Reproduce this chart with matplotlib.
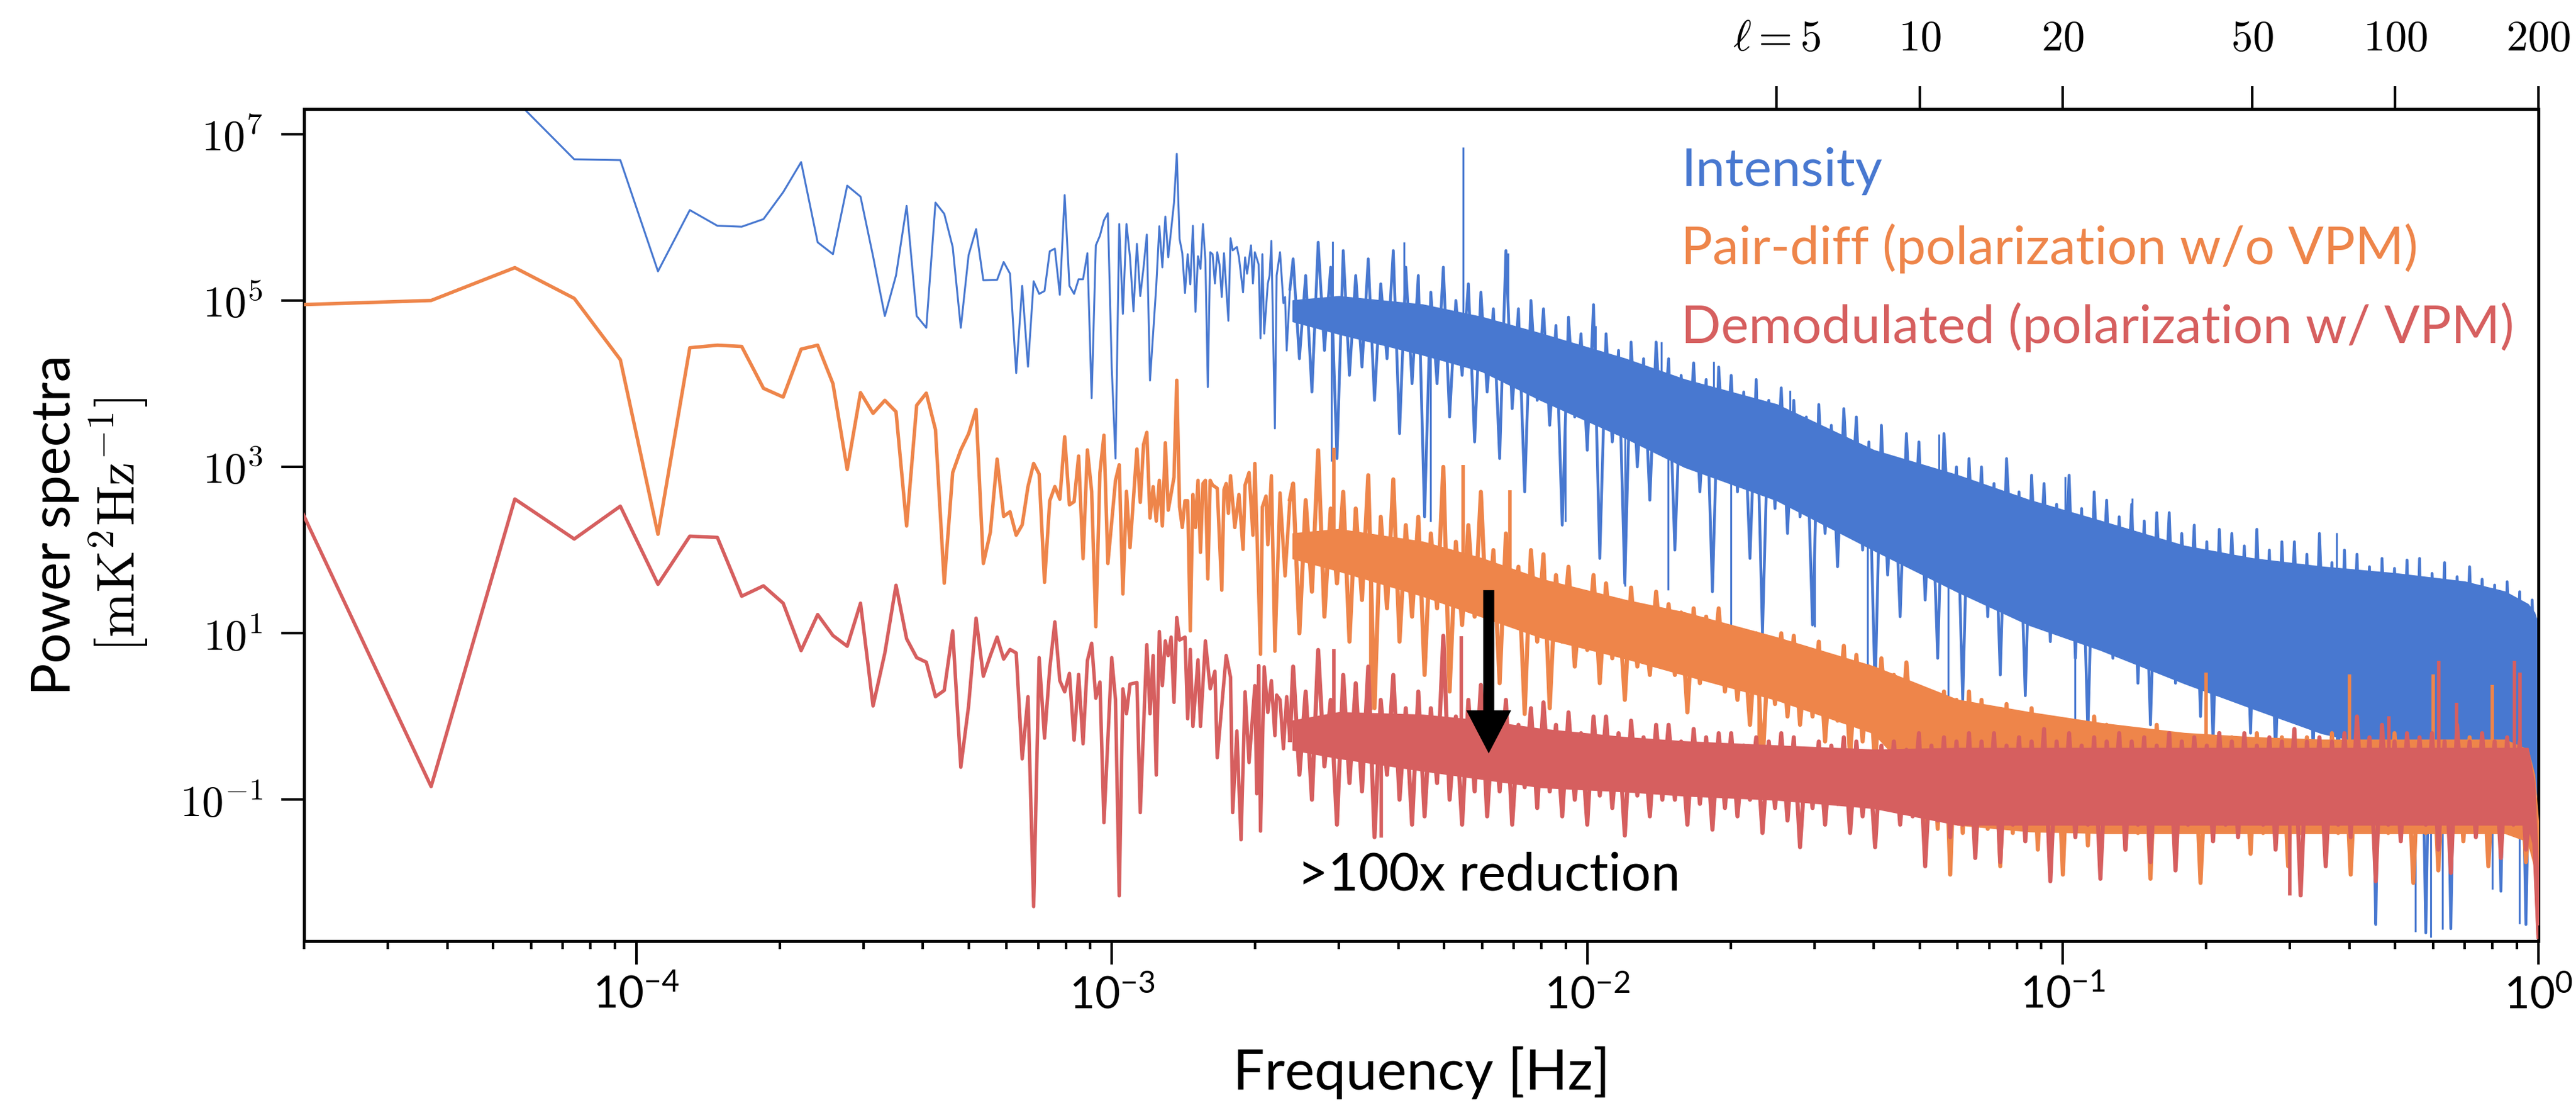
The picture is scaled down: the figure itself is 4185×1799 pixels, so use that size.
import numpy as np
import matplotlib

matplotlib.use("Agg")
import matplotlib.pyplot as plt
from matplotlib.ticker import LogLocator, NullLocator, NullFormatter

plt.rcParams["font.family"] = ["Lato", "DejaVu Sans"]
plt.rcParams["mathtext.fontset"] = "cm"
plt.rcParams["mathtext.rm"] = "Lato"
plt.rcParams["mathtext.it"] = "Lato:italic"
plt.rcParams["mathtext.bf"] = "Lato:bold"

BLUE = "#4878D0"
ORANGE = "#EE854A"
RED = "#D65F5F"

DF = 1.85e-5  # width of one frequency bin [Hz]

# bins 1..50, one value per bin [mK^2/Hz]
INT_LOW = [6e7, 4e7, 2.6e7, 4.97e6, 4.86e6, 2.24e5, 1.22e6, 7.9e5, 7.7e5, 9.5e5,
           2.0e6, 4.6e6, 5.0e5, 3.6e5, 2.4e6, 1.77e6, 3.4e5, 6.5e4, 2.0e5, 1.37e6,
           6.5e4, 4.7e4, 1.5e6, 1.1e6, 4.4e5, 4.7e4, 3.5e5, 7.2e5, 1.75e5, 1.76e5,
           1.77e5, 2.9e5, 2.1e5, 1.34e4, 1.5e5, 1.6e4, 1.7e5, 1.2e5, 1.3e5, 3.9e5,
           4.2e5, 1.17e5, 1.85e6, 1.5e5, 1.2e5, 1.8e5, 1.8e5, 3.7e5, 6.7e3, 4.6e5]
PAIR_LOW = [8.8e4, 1.0e5, 2.48e5, 1.06e5, 1.94e4, 155, 2.7e4, 2.9e4, 2.8e4, 8.8e3,
            6.9e3, 2.6e4, 2.9e4, 1.0e4, 930, 7.8e3, 4.4e3, 6.3e3, 4.6e3, 195,
            5.5e3, 7.7e3, 2.8e3, 40, 855, 1.6e3, 2.5e3, 4.9e3, 69, 164,
            1.24e3, 254, 289, 151, 201, 580, 1.1e3, 820, 41, 392,
            580, 409, 2.3e3, 350, 382, 1.35e3, 79, 1.6e3, 508, 12]
DEMOD_LOW = [660, 0.144, 411, 136, 337, 38.8, 147, 142, 27.9, 37.2,
             23, 6.2, 16.8, 9.4, 7.0, 23, 1.34, 5.8, 37.8, 8.6,
             5.1, 4.5, 1.73, 2.06, 10.7, 0.246, 1.34, 15.2, 3.05, 5.4,
             9.0, 4.9, 6.4, 5.8, 0.31, 1.73, 0.0052, 5.1, 0.55, 3.8,
             13.7, 2.7, 1.98, 3.3, 0.52, 3.2, 0.47, 4.7, 7.6, 1.66]

# (bin, value) for the bins 51..128 that can be told apart
INT_MID = [(51, 6.0e5), (52, 9.2e5), (53, 1.12e6), (54, 1.56e4), (55, 1.26e3),
           (56, 8.3e5), (57, 6.9e4), (58, 8.3e5), (59, 3.3e5), (60, 7.4e4),
           (61, 4.8e5), (62, 1.13e5), (63, 2.5e5), (64, 6.2e5), (65, 1.09e4),
           (67, 1.5e5), (68, 7.8e5), (69, 2.5e5), (70, 1.02e6), (71, 3.3e5),
           (73, 1.49e6), (74, 5.8e6), (75, 5.5e5), (76, 3.7e5), (77, 1.23e5),
           (78, 3.6e5), (79, 1.56e5), (80, 7.9e5), (81, 7.3e4), (82, 3.4e5),
           (83, 2.4e5), (84, 8.3e5), (85, 3.0e5), (86, 9.1e3), (87, 3.8e5),
           (88, 3.6e5), (89, 1.6e5), (90, 3.8e5), (91, 2.7e5), (92, 1.1e5),
           (93, 3.7e5), (95, 5.7e4), (96, 5.6e5), (97, 4.0e5), (99, 4.4e5),
           (100, 3.3e5), (102, 1.25e5), (103, 3.3e5), (104, 2.1e5), (106, 4.6e5),
           (107, 1.6e5), (108, 3.8e5), (110, 2.7e5), (111, 3.5e4), (112, 3.6e5),
           (113, 4.0e4), (115, 1.6e5), (116, 2.0e5), (117, 5.2e5), (119, 2.9e3),
           (120, 2.0e5), (122, 3.8e5), (124, 9.3e4), (125, 1.1e5), (126, 2.5e4),
           (128, 1.37e5)]
PAIR_MID = [(51, 855), (52, 2.4e3), (53, 69), (55, 689), (56, 1.06e3),
            (57, 29.7), (58, 508), (59, 107), (61, 1.64e3), (62, 375),
            (63, 1.87e3), (64, 2.6e3), (65, 243), (66, 578), (67, 223),
            (68, 689), (69, 195), (70, 1.95e3), (71, 302), (73, 750),
            (74, 1.1e4), (75, 330), (76, 187), (77, 392), (78, 392),
            (79, 10.7), (80, 466), (81, 187), (82, 689), (83, 94),
            (84, 631), (85, 689), (86, 45), (87, 689), (88, 604),
            (90, 553), (92, 33), (93, 531), (94, 631), (95, 277),
            (96, 783), (98, 187), (100, 466), (102, 102), (103, 604),
            (105, 855), (107, 151), (108, 1.1e3), (111, 5.6), (112, 330),
            (114, 446), (115, 116), (117, 783), (119, 6.1), (122, 486),
            (125, 49), (128, 408)]
DEMOD_MID = [(51, 2.6), (52, 0.053), (54, 5.1), (55, 1.59), (56, 0.007),
             (57, 2.15), (58, 1.08), (59, 2.45), (61, 2.56), (62, 0.07),
             (64, 7.3), (65, 1.08), (66, 5.4), (67, 0.198), (68, 10.5),
             (69, 2.35), (70, 8.1), (71, 5.4), (72, 9.0), (73, 1.48),
             (74, 15.5), (75, 8.3), (77, 9.0), (78, 0.94), (79, 6.4),
             (80, 0.76), (82, 4.8), (83, 0.76), (85, 8.1), (87, 2.15),
             (89, 3.5), (90, 0.32), (92, 1.34), (94, 5.4), (96, 2.97),
             (97, 0.07), (99, 0.67), (101, 0.033), (103, 1.98), (105, 0.28),
             (108, 2.35), (109, 0.118), (110, 4.1), (111, 0.042), (113, 3.95),
             (115, 1.12), (117, 2.7), (119, 0.59), (120, 1.81), (122, 1.59),
             (124, 0.41), (126, 1.73), (128, 0.52)]

# above ~2.4 mHz the bins can no longer be told apart. The dense part is kept as
# decade exponents: 200 samples from bin 130 up to 1 Hz,
# alternating between the upper and the lower fringe of each spectrum
DENSE_FIRST_BIN = 130
DENSE_LAST_BIN = 54054
INT_DENSE_EXP = [
    5.5, 4.3, 5.3, 3.9, 5.7, 4.4, 5.4, 3.1, 5.6, 4.1,
    5.3, 4.2, 5.5, 3.8, 5.2, 4.3, 5.6, 3.4, 5.4, 4.0,
    5.3, 2.4, 5.1, 4.0, 5.4, 3.6, 5.0, 4.1, 5.2, 3.3,
    5.1, 3.9, 4.9, 3.1, 5.6, 3.7, 4.9, 2.7, 5.0, 3.8,
    4.9, 3.5, 4.7, 2.3, 4.8, 3.6, 4.6, 3.2, 4.95, 1.9,
    4.6, 3.3, 4.4, 1.6, 4.5, 3.0, 4.3, 2.6, 4.5, 3.2,
    4.3, 2.0, 4.1, 3.0, 4.25, 2.7, 4.05, 1.5, 4.2, 2.9,
    4.1, 2.7, 3.9, 1.9, 4.05, 1.0, 3.8, 2.5, 3.95, 2.2,
    3.8, 2.4, 3.6, 1.1, 3.75, 2.2, 3.5, 1.8, 3.7, 2.3,
    3.6, 2.0, 3.3, 0.3, 3.5, 1.7, 3.1, 1.2, 3.4, 1.9,
    3.3, 1.4, 2.95, 0.7, 3.4, 1.9, 3.0, 0.2, 3.1, 1.6,
    3.0, 1.2, 2.8, 0.5, 3.1, 1.6, 2.7, 0.25, 2.9, 1.3,
    2.8, 0.9, 2.55, 1.2, 2.9, 0.7, 2.5, -0.2, 2.7, 1.0,
    2.6, 0.7, 2.4, 1.0, 2.55, 0.4, 2.35, -0.1, 2.45, 0.9,
    2.45, 0.4, 2.2, 0.8, 2.3, 0.0, 2.1, -0.3, 2.25, 0.6,
    2.2, 0.5, 2.05, -0.2, 2.25, 0.1, 2.0, -0.5, 2.1, 0.4,
    2.1, 0.0, 1.95, -0.4, 2.2, 0.3, 1.85, -0.6, 2.0, -0.2,
    1.95, -0.3, 1.8, -2.5, 1.9, 0.0, 1.78, -0.2, 1.88, -1.1,
    1.9, -2.6, 1.72, -0.4, 1.85, -2.55, 1.68, 0.0, 1.8, -0.3,
    1.65, -0.5, 1.58, -2.1, 1.62, -0.4, 1.5, -2.5, 1.4, -1.0]
PAIR_DENSE_EXP = [
    2.8, 1.0, 2.6, 1.5, 3.2, 1.2, 2.5, 1.6, 2.7, 0.9,
    2.5, 1.4, 2.9, 0.1, 2.4, 1.3, 2.85, 0.9, 2.3, 1.2,
    2.4, 0.5, 2.2, 1.3, 3.0, 0.3, 2.1, 1.1, 2.3, 1.2,
    2.7, 1.0, 2.0, 0.4, 2.2, 1.1, 1.8, 0.03, 2.0, 0.9,
    1.95, 0.1, 1.7, 0.9, 1.8, 0.6, 1.5, 0.8, 1.7, 0.4,
    1.6, 0.7, 1.4, 0.2, 1.55, 0.6, 1.3, 0.5, 1.5, 0.65,
    1.35, 0.5, 1.25, 0.05, 1.3, 0.4, 1.2, 0.45, 1.3, 0.3,
    1.05, 0.2, 0.95, -0.1, 1.0, -0.6, 0.9, 0.15, 1.0, 0.0,
    0.97, -0.1, 0.8, 0.0, 0.9, -0.3, 0.7, -0.05, 0.85, -0.5,
    0.74, -0.3, 0.6, -0.6, 0.7, -0.2, 0.5, -0.5, 0.65, -0.4,
    0.34, -1.5, 0.25, -1.35, 0.3, -1.9, 0.2, -1.4, 0.3, -1.6,
    0.2, -1.35, 0.1, -1.8, 0.15, -1.4, 0.0, -1.35, 0.1, -1.6,
    0.0, -1.4, -0.1, -1.9, -0.05, -1.35, -0.1, -1.55, 0.0, -1.4,
    -0.1, -1.35, -0.2, -1.6, -0.15, -1.4, -0.2, -1.95, -0.1, -1.35,
    -0.2, -1.5, -0.3, -1.35, -0.25, -2.0, -0.35, -1.4, -0.2, -1.35,
    -0.25, -1.35, -0.3, -1.65, -0.2, -1.4, -0.35, -1.35, -0.25, -1.8,
    -0.3, -1.4, -0.25, -1.35, -0.35, -1.7, -0.2, -1.4, -0.3, -1.9,
    -0.25, -1.35, -0.35, -1.6, -0.3, -1.4, -0.2, -1.35, -0.3, -2.0,
    -0.3, -1.4, -0.25, -1.85, -0.35, -1.35, -0.3, -1.5, -0.25, -1.4,
    -0.3, -1.8, -0.35, -1.4, -0.3, -1.35, -0.4, -1.75, -0.7, -2.6]
DEMOD_DENSE_EXP = [
    0.6, -0.7, 0.3, -1.0, 0.8, -0.6, 0.2, -1.3, 0.5, -0.8,
    0.4, -0.9, 0.6, -1.45, 0.2, -0.7, 0.5, -1.0, 0.1, -1.3,
    0.3, -1.2, 0.1, -0.8, 0.97, -1.0, 0.0, -1.3, 0.2, -0.9,
    0.38, -1.2, 0.0, -0.9, 0.2, -1.3, -0.1, -0.85, 0.1, -1.1,
    0.17, -0.9, -0.1, -1.2, 0.05, -1.0, -0.2, -1.3, 0.0, -0.95,
    0.0, -1.1, -0.2, -1.43, -0.05, -0.95, -0.25, -1.2, -0.1, -1.0,
    -0.1, -1.0, -0.3, -1.3, -0.15, -1.05, -0.25, -1.36, -0.2, -1.1,
    -0.2, -1.2, -0.35, -1.0, -0.25, -1.4, -0.3, -1.1, -0.2, -1.25,
    -0.25, -1.57, -0.4, -1.1, -0.3, -1.3, -0.35, -1.05, -0.25, -1.4,
    -0.3, -1.2, -0.42, -1.57, -0.35, -1.1, -0.3, -1.3, -0.4, -1.2,
    -0.2, -1.8, -0.35, -1.25, -0.25, -1.45, -0.3, -1.3, -0.2, -1.7,
    -0.3, -1.25, -0.2, -1.75, -0.35, -1.3, -0.25, -1.5, -0.3, -1.25,
    -0.15, -1.98, -0.3, -1.25, -0.2, -1.45, -0.35, -1.3, -0.25, -1.95,
    -0.3, -1.25, -0.2, -1.6, -0.3, -1.3, -0.25, -1.75, -0.35, -1.25,
    -0.2, -1.85, -0.3, -1.3, -0.25, -1.25, -0.35, -1.5, -0.2, -1.3,
    -0.3, -1.45, -0.2, -1.25, -0.35, -1.3, -0.25, -1.6, -0.3, -1.25,
    -0.15, -2.15, -0.3, -1.25, -0.25, -1.8, -0.3, -1.3, -0.2, -1.45,
    0.0, -1.25, -0.25, -1.98, -0.1, -1.3, -0.3, -1.5, -0.2, -1.25,
    -0.25, -1.3, -0.2, -1.6, -0.3, -1.88, -0.1, -1.25, -0.3, -1.45,
    -0.2, -1.25, -0.3, -1.7, -0.25, -1.3, -0.3, -1.6, -0.9, -2.65]

# solid core of the dense part (decade exponents of its low / high edge)
F_CORE = [2.4e-3, 3.0e-3, 4.5e-3, 6.0e-3, 8.0e-3, 1.2e-2, 1.6e-2, 2.5e-2, 4.0e-2, 6.0e-2,
          8.5e-2, 0.12, 0.18, 0.25, 0.35, 0.5, 0.7, 0.85, 0.95, 0.98, 1.0]
INT_CORE_LO = [4.75, 4.6, 4.35, 4.15, 3.8, 3.35, 3.0, 2.6, 2.0, 1.5,
               1.1, 0.8, 0.4, 0.1, -0.2, -0.4, -0.5, -0.5, -0.6, -0.8, -1.0]
INT_CORE_HI = [5.0, 5.05, 4.95, 4.8, 4.6, 4.3, 4.05, 3.75, 3.2, 2.9,
               2.6, 2.35, 2.05, 1.9, 1.8, 1.72, 1.62, 1.5, 1.35, 1.25, 1.1]
PAIR_CORE_LO = [1.9, 1.75, 1.45, 1.2, 0.95, 0.7, 0.5, 0.2, -0.2, -1.3,
                -1.38, -1.4, -1.4, -1.4, -1.4, -1.4, -1.4, -1.4, -1.5, -1.8, -2.4]
PAIR_CORE_HI = [2.2, 2.25, 2.1, 1.9, 1.65, 1.4, 1.25, 0.95, 0.6, 0.2,
                0.05, -0.08, -0.2, -0.25, -0.28, -0.28, -0.28, -0.28, -0.4, -0.7, -1.3]
DEMOD_CORE_LO = [-0.4, -0.5, -0.65, -0.75, -0.85, -0.9, -0.95, -1.0, -1.1, -1.3,
                 -1.3, -1.3, -1.3, -1.3, -1.3, -1.3, -1.3, -1.3, -1.3, -1.6, -2.5]
DEMOD_CORE_HI = [-0.05, 0.05, 0.02, -0.05, -0.15, -0.25, -0.3, -0.35, -0.4, -0.38,
                 -0.38, -0.38, -0.38, -0.38, -0.38, -0.38, -0.38, -0.38, -0.38, -0.8, -1.9]

# single spikes sticking out of the dense part: (frequency [Hz], value)
INT_SPIKES = [(2.91e-3, 5.1e5), (4.12e-3, 5.0e5), (5.48e-3, 6.9e6), (6.80e-3, 3.7e5),
              (1.04e-2, 5.0e4), (1.43e-2, 3.2e4), (1.84e-2, 1.86e4), (2.67e-2, 8.3e3),
              (5.49e-2, 2.45e3), (0.101, 760), (0.140, 417), (0.376, 162),
              (2.89e-3, 1.17e3), (4.67e-3, 219), (8.99e-3, 219), (1.20e-2, 37),
              (1.48e-2, 33), (2.00e-2, 10), (3.00e-2, 12), (3.88e-2, 1.6),
              (5.73e-2, 1.7), (0.106, 0.69), (0.452, 3.2e-3), (0.551, 2.6e-3),
              (0.593, 2.2e-3), (0.629, 2.75e-3), (0.800, 8.3e-3), (0.911, 3.2e-3)]
PAIR_SPIKES = [(2.93e-3, 1.7e3), (5.48e-3, 1.05e3), (6.87e-3, 525), (3.50e-3, 1.2),
               (2.30e-2, 0.26), (0.2, 3.4), (0.4, 3.2), (0.6, 3.2), (0.8, 2.4)]
DEMOD_SPIKES = [(2.93e-3, 6.5), (5.43e-3, 9.3), (0.484, 1.0), (0.617, 4.7),
                (0.673, 1.47), (0.89, 4.7), (0.914, 3.4), (3.69e-3, 0.035), (0.30, 0.0071)]

LABELS = ["Intensity", "Pair-diff (polarization w/o VPM)", "Demodulated (polarization w/ VPM)"]
X_TICKS = [1e-4, 1e-3, 1e-2, 1e-1, 1e0]
X_TICKLABELS = ["$10^{-4}$", "$10^{-3}$", "$10^{-2}$", "$10^{-1}$", "$10^{0}$"]
Y_TICKS = [1e-1, 1e1, 1e3, 1e5, 1e7]
Y_TICKLABELS = ["$10^{-1}$", "$10^{1}$", "$10^{3}$", "$10^{5}$", "$10^{7}$"]
ELL_TICKS = [5, 10, 20, 50, 100, 200]
ELL_TICKLABELS = [r"$\ell = 5$", "$10$", "$20$", "$50$", "$100$", "$200$"]
ELL_PER_HZ = 200  # multipole reached at 1 Hz


def draw_spectrum(ax, low, mid, dense_exp, core_lo, core_hi, spikes, color, lw, lw_dense, z):
    k = np.concatenate([np.arange(1, len(low) + 1), [m[0] for m in mid]])
    p = np.concatenate([low, [m[1] for m in mid]])
    ax.plot(k * DF, p, color=color, lw=lw, zorder=z)

    # dense part, joined to the last resolved bin
    k_dense = np.concatenate([[k[-1]], np.geomspace(DENSE_FIRST_BIN, DENSE_LAST_BIN, len(dense_exp))])
    p_dense = np.concatenate([[p[-1]], 10.0 ** np.array(dense_exp)])
    ax.fill_between(F_CORE, 10.0 ** np.array(core_lo), 10.0 ** np.array(core_hi),
                    color=color, lw=0.5, zorder=z)
    ax.plot(k_dense * DF, p_dense, color=color, lw=lw_dense, zorder=z)

    f_s = np.array([s[0] for s in spikes])
    p_s = np.array([s[1] for s in spikes])
    mid_exp = (np.array(core_lo) + np.array(core_hi)) / 2
    base = 10 ** np.interp(np.log10(f_s), np.log10(F_CORE), mid_exp)
    ax.vlines(f_s, np.minimum(base, p_s), np.maximum(base, p_s), colors=color, lw=lw, zorder=z)


fig = plt.figure(figsize=(13.95, 5.9967), dpi=300)
ax = fig.add_axes([0.11804, 0.15064, 0.86738, 0.75097])

draw_spectrum(ax, INT_LOW, INT_MID, INT_DENSE_EXP, INT_CORE_LO, INT_CORE_HI, INT_SPIKES,
              BLUE, 0.75, 1.1, 2)
draw_spectrum(ax, PAIR_LOW, PAIR_MID, PAIR_DENSE_EXP, PAIR_CORE_LO, PAIR_CORE_HI, PAIR_SPIKES,
              ORANGE, 1.35, 1.6, 3)
draw_spectrum(ax, DEMOD_LOW, DEMOD_MID, DEMOD_DENSE_EXP, DEMOD_CORE_LO, DEMOD_CORE_HI, DEMOD_SPIKES,
              RED, 1.35, 1.6, 4)

ax.set_xscale("log")
ax.set_yscale("log")
ax.set_xlim(2e-5, 1.0)
ax.set_ylim(2e-3, 2e7)

ax.set_xticks(X_TICKS, labels=X_TICKLABELS, math_fontfamily="custom")
ax.xaxis.set_minor_locator(LogLocator(base=10, subs=np.arange(2, 10), numticks=30))
ax.xaxis.set_minor_formatter(NullFormatter())
ax.set_yticks(Y_TICKS, labels=Y_TICKLABELS)
ax.yaxis.set_minor_locator(NullLocator())
ax.tick_params(which="major", direction="out", length=9, width=1.0, labelsize=17)
ax.tick_params(axis="x", which="major", pad=4)
ax.tick_params(axis="y", which="major", pad=7)
ax.tick_params(which="minor", direction="out", length=3, width=1.0)
for sp in ax.spines.values():
    sp.set_linewidth(1.2)

sec = ax.secondary_xaxis("top", functions=(lambda f: f * ELL_PER_HZ, lambda l: l / ELL_PER_HZ))
sec.set_xticks(ELL_TICKS, labels=ELL_TICKLABELS)
sec.xaxis.set_minor_locator(NullLocator())
sec.tick_params(direction="out", length=9, width=1.0, labelsize=17, pad=11)
sec.spines["top"].set_linewidth(1.2)

ax.set_xlabel("Frequency [Hz]", fontsize=21.8, labelpad=12)
ax.set_ylabel("Power spectra\n$[\\mathrm{mK}^2\\mathrm{Hz}^{-1}]$", fontsize=21, linespacing=1.15)
ax.yaxis.set_label_coords(-0.069, 0.5)

for label, color, y in zip(LABELS, [BLUE, ORANGE, RED], [0.9075, 0.8135, 0.7187]):
    ax.text(0.6163, y, label, color=color, fontsize=20.5, transform=ax.transAxes,
            va="baseline", zorder=6)

ax.annotate("", xy=(6.2e-3, 0.36), xytext=(6.2e-3, 33),
            arrowprops=dict(arrowstyle="simple,head_length=1.68,head_width=1.75,tail_width=0.43",
                            mutation_scale=10, color="k", lw=0, shrinkA=0, shrinkB=0),
            zorder=7)
ax.text(6.2e-3, 8.1e-3, ">100x reduction", ha="center", va="baseline", fontsize=20.5, zorder=7)

fig.savefig("out.png", dpi=300)
